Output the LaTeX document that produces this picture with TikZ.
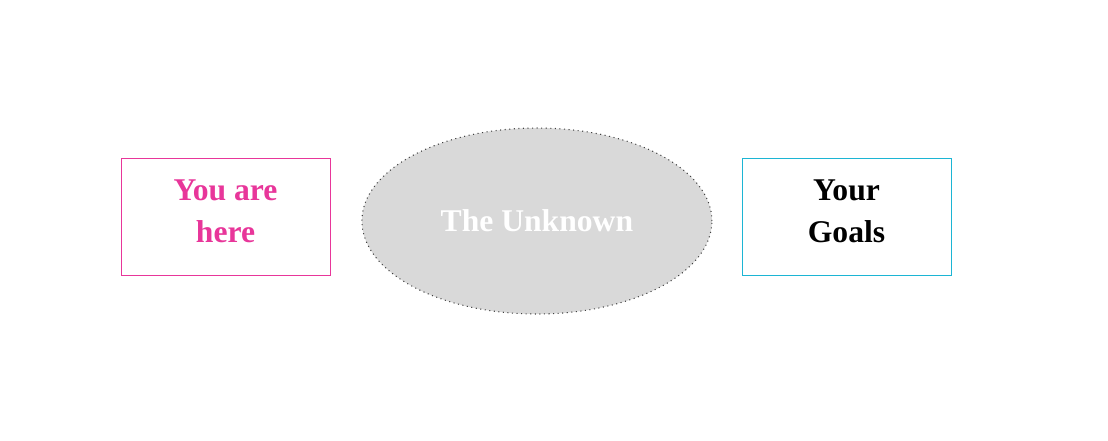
\documentclass[tikz,border=0pt]{standalone}
\usepackage{fontspec}
\setmainfont{Liberation Serif}
\usetikzlibrary{positioning,shapes.geometric}
\definecolor{here}{HTML}{E8369A}
\definecolor{goal}{HTML}{1CB5D4}
\definecolor{fog}{HTML}{D9D9D9}

\begin{document}
\begin{tikzpicture}[
  font=\fontsize{18}{24}\selectfont\bfseries,
  spot/.style={draw=#1, fill=white, line width=0.45pt, minimum width=4.18cm,
               minimum height=2.34cm, inner sep=0pt},
  word/.style={inner sep=0pt, align=center, text=#1},
  cloud/.style={ellipse, draw=black!75, fill=fog, dotted, line width=0.6pt,
                minimum width=7.0cm, minimum height=3.72cm, inner sep=0pt,
                text=white},
]
\useasboundingbox (0,0) rectangle (22.16,-8.8);

% ---------- Start ----------
\node[spot=here] (here) at (4.51,-4.33) {};
\node[word=here] (hereText) at ([yshift=0.11cm]here.center) {You are\\here};

% ---------- Middle ----------
\node[cloud, right=0.62cm of here, yshift=-0.09cm] (unknown) {The Unknown};

% ---------- Target ----------
\node[spot=goal] (goals) at (16.93,-4.33) {};
\node[word=black] (goalsText) at ([yshift=0.11cm]goals.center) {Your\\Goals};
\end{tikzpicture}
\end{document}
